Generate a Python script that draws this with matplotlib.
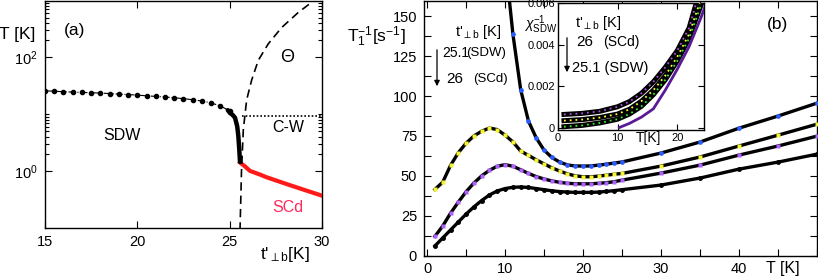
import matplotlib
matplotlib.use('Agg')
import matplotlib.pyplot as plt
import matplotlib.patches as mpatches
from matplotlib.ticker import FixedLocator, NullFormatter

plt.rcParams['font.family'] = ['Liberation Sans', 'DejaVu Sans']
plt.rcParams['mathtext.fontset'] = 'custom'
plt.rcParams['mathtext.rm'] = 'Liberation Sans'
plt.rcParams['mathtext.it'] = 'Liberation Sans:italic'
plt.rcParams['mathtext.bf'] = 'Liberation Sans:bold'
plt.rcParams['mathtext.fallback'] = 'stixsans'

# ---------------- data: panel (a) ----------------
t_sdw = [15, 15.5, 16, 16.5, 17, 17.5, 18, 18.5, 19, 19.5, 20, 20.5, 21, 21.5,
         22, 22.5, 23, 23.5, 24, 24.5, 25]
T_sdw = [25.9, 25.4, 24.9, 24.5, 24.2, 23.9, 23.6, 23.1, 22.6, 22.2, 21.7, 21.1,
         20.6, 20.1, 19.5, 18.8, 18.0, 17.1, 15.8, 14.0, 11.4]
t_sdw_fine = [24.9, 25.02, 25.15, 25.29, 25.41, 25.47, 25.52, 25.56]
T_sdw_fine = [11.8, 10.5, 9.8, 8.7, 6.1, 4.1, 2.4, 1.45]
t_sc = [25.56, 25.83, 26.1, 26.64, 27.0, 28.1, 29.2, 30.0]
T_sc = [1.42, 1.21, 1.01, 0.87, 0.78, 0.59, 0.45, 0.37]
t_cw = [25.65, 30.0]
T_cw = [9.2, 9.2]
t_theta = [25.56, 25.64, 25.74, 25.92, 26.19, 26.55, 27.09, 27.82, 28.71, 29.53, 29.8]
T_theta = [0.09, 1.0, 5.4, 17.9, 39.8, 88.7, 173, 336, 614, 980, 1150]

# ---------------- data: panel (b) ----------------
T_main = list(range(1, 26)) + [30, 35, 40, 45, 50]
rate_yellow = [41.5, 46, 56.5, 64.5, 70.5, 75, 78, 80, 79, 75.5, 71.3, 65.5, 62.8,
               60, 57.5, 55, 53, 51.2, 50, 49.4, 49.4, 49.8, 50.4, 51, 51.5,
               56.1, 61.8, 68.7, 75.5, 82.4]
rate_purple = [12, 18.5, 26.5, 33.5, 40, 45.5, 50, 53.5, 56, 57, 56, 53.8, 51.5,
               49.5, 48, 46.8, 45.9, 45.3, 45, 45, 45, 45.3, 45.7, 46.3, 47.3,
               51.7, 56.7, 63, 68.7, 74.9]
rate_black = [6, 11, 16, 21, 26, 30.5, 34.5, 38, 40.5, 42, 42.8, 43, 42.7, 42,
              41.3, 40.6, 40.1, 39.8, 39.6, 39.6, 39.6, 39.8, 40.2, 40.7, 41.3,
              44.2, 48.6, 54.2, 58.6, 63.6]
T_blue = list(range(10, 26)) + [30, 35, 40, 45, 50]
rate_blue = [186, 139, 104, 84.3, 73.7, 66.1, 61.5, 58.6, 56.8, 56.2, 56.1, 56.2,
             56.7, 57.3, 58, 58.7, 64.3, 71.2, 79.9, 87.5, 95.6]

# ---------------- data: inset ----------------
T_in = [1, 4, 7, 10, 12, 14, 16, 18, 20, 22, 24]
chi_top = [0.00063, 0.00068, 0.00078, 0.0010, 0.00125, 0.00165, 0.0022, 0.0029,
           0.0037, 0.0048, 0.0068]
chi_mid = [0.00033, 0.00038, 0.00048, 0.00065, 0.00088, 0.00127, 0.0018, 0.0025,
           0.0034, 0.0045, 0.0062]
chi_bot = [0.00004, 0.0001, 0.00022, 0.0004, 0.00065, 0.00102, 0.00158, 0.0023,
           0.0032, 0.0043, 0.0059]
T_sdwline = [10.3, 12, 14, 16, 18, 20, 22, 24, 25]
chi_sdwline = [0, 0.0002, 0.0005, 0.0009, 0.0018, 0.0028, 0.0039, 0.0053, 0.0061]

W, H = 818, 279
fig = plt.figure(figsize=(W / 100, H / 100), dpi=100)


def rect(x0, y0, x1, y1):
    return [x0 / W, 1 - y1 / H, (x1 - x0) / W, (y1 - y0) / H]


def P(x, y):
    return (x / W, 1 - y / H)


TL = 10.5

# ================= panel (a) =================
axA = fig.add_axes(rect(45, 0.5, 322, 228))
axA.set_yscale('log')
axA.set_xlim(15, 30)
axA.set_ylim(0.1, 1000)
axA.plot(t_sdw, T_sdw, color='black', lw=0.8, ls='-.', marker='o', ms=3, zorder=3)
axA.plot(t_sdw_fine, T_sdw_fine, color='black', lw=3.2, solid_capstyle='round', zorder=4)
axA.plot(t_sc, T_sc, color='#ff1a1a', lw=3.0, zorder=3)
axA.plot(t_cw, T_cw, color='black', lw=1.2, ls=(0, (1, 1.2)), zorder=3)
axA.plot(t_theta, T_theta, color='black', lw=1.2, ls=(0, (5, 3)), zorder=3)

axA.set_xticks([15, 20, 25, 30])
axA.set_xticklabels(['15', '20', '25', '30'])
axA.yaxis.set_major_locator(FixedLocator([1, 100]))
axA.set_yticklabels([r'$10^0$', r'$10^2$'])
axA.yaxis.set_minor_locator(FixedLocator([2, 3, 4, 5, 6, 7, 8, 9, 10,
                                          200, 300, 400, 500, 600, 700, 800, 900]))
axA.yaxis.set_minor_formatter(NullFormatter())
axA.xaxis.set_minor_locator(FixedLocator([]))
axA.tick_params(axis='both', which='both', direction='in', top=True, right=True,
                labelsize=TL, width=0.8)
axA.tick_params(axis='both', which='major', length=5, pad=5)
axA.tick_params(axis='both', which='minor', length=3)
for s in axA.spines.values():
    s.set_linewidth(1.0)

fig.text(*P(17, 35), 'T [K]', fontsize=12.5, ha='center', va='center')
fig.text(*P(75, 30), '(a)', fontsize=12.5, ha='center', va='center')
fig.text(*P(122, 136), 'SDW', fontsize=11.5, ha='center', va='center')
fig.text(*P(288, 128), 'C-W', fontsize=11.5, ha='center', va='center')
fig.text(*P(288, 58), r'$\Theta$', fontsize=13, ha='center', va='center')
fig.text(*P(288, 208), 'SCd', fontsize=11.5, ha='center', va='center', color='#ff2a5a')
fig.text(*P(285, 255), r"t$'_{\perp\mathrm{b}}$[K]", fontsize=12.5, ha='center', va='center')

# ================= panel (b) =================
axB = fig.add_axes(rect(424, 0.5, 817, 255.5))
axB.set_xlim(-0.4, 50)
axB.set_ylim(0, 160)
LW = 2.4
axB.plot(T_main, rate_black, color='black', lw=LW, marker='o', ms=2.5,
         mfc='black', mec='black', zorder=3)
axB.plot(T_main, rate_purple, color='black', lw=LW, marker='s', ms=3.2,
         mfc='#b060ff', mec='none', zorder=3)
axB.plot(T_main, rate_yellow, color='black', lw=LW, marker='s', ms=3.2,
         mfc='#f4f430', mec='none', zorder=3)
axB.plot(T_blue, rate_blue, color='black', lw=LW, marker='o', ms=3.4,
         mfc='#2b5cff', mec='none', zorder=3)

axB.set_xticks([0, 10, 20, 30, 40, 50])
axB.set_xticklabels(['0', '10', '20', '30', '40', ''])
axB.xaxis.set_minor_locator(FixedLocator([5, 15, 25, 35, 45]))
axB.set_yticks([0, 25, 50, 75, 100, 125, 150])
axB.yaxis.set_minor_locator(FixedLocator([12.5, 37.5, 62.5, 87.5, 112.5, 137.5]))
axB.tick_params(axis='both', which='both', direction='in', top=True, right=True,
                labelsize=TL, width=0.8)
axB.tick_params(axis='both', which='major', length=5, pad=5)
axB.tick_params(axis='both', which='minor', length=5)
for s in axB.spines.values():
    s.set_linewidth(1.0)

fig.text(*P(376, 37), r'T$_1^{-1}$[s$^{-1}$]', fontsize=12.5, ha='center', va='center')
fig.text(*P(778, 25), '(b)', fontsize=12.5, ha='center', va='center')
fig.text(*P(783, 268), 'T [K]', fontsize=11.5, ha='center', va='center')
fig.text(*P(455, 32), r"t$'_{\perp\mathrm{b}}$ [K]", fontsize=10.5, ha='left', va='center')
fig.text(*P(442, 53), '25.1', fontsize=10, ha='left', va='center')
fig.text(*P(466, 53), '(SDW)', fontsize=9.5, ha='left', va='center')
fig.text(*P(446, 79), '26', fontsize=11, ha='left', va='center')
fig.text(*P(473, 79), '(SCd)', fontsize=9.5, ha='left', va='center')
fig.add_artist(mpatches.FancyArrowPatch(P(437, 47), P(437, 89),
               transform=fig.transFigure, arrowstyle='-|>', mutation_scale=8,
               color='black', lw=0.9))

# ================= inset =================
axI = fig.add_axes(rect(558, 3, 704, 130))
axI.set_zorder(5)
axI.set_xlim(0, 24.5)
axI.set_ylim(-0.00012, 0.006)
for y, c in [(chi_bot, '#33ee33'), (chi_mid, '#ffff33'), (chi_top, '#b050e0')]:
    axI.plot(T_in, y, color='black', lw=3.6, zorder=3)
    axI.plot(T_in, y, color=c, lw=1.3, ls=(0, (1, 2.2)), zorder=4)
axI.plot(T_sdwline, chi_sdwline, color='#5a1a96', lw=2.0, zorder=5)
axI.set_xticks([0, 10, 20])
axI.set_yticks([0, 0.002, 0.004, 0.006])
axI.set_yticklabels(['0', '0.002', '0.004', '0.006'])
axI.tick_params(axis='both', which='both', direction='in', top=True, right=True,
                labelsize=8, width=0.8, length=4, pad=2)
for s in axI.spines.values():
    s.set_linewidth(1.0)

fig.text(*P(541, 25), r'$\chi_{\mathrm{SDW}}^{-1}$', fontsize=10, ha='center', va='center')
fig.text(*P(648, 138), 'T[K]', fontsize=10, ha='center', va='center')
fig.text(*P(575, 23), r"t$'_{\perp\mathrm{b}}$ [K]", fontsize=10.5, ha='left', va='center', zorder=10)
fig.text(*P(576, 42), '26', fontsize=11, ha='left', va='center', zorder=10)
fig.text(*P(603, 42), '(SCd)', fontsize=10, ha='left', va='center', zorder=10)
fig.text(*P(572, 68), '25.1 (SDW)', fontsize=10.5, ha='left', va='center', zorder=10)
fig.add_artist(mpatches.FancyArrowPatch(P(567, 35), P(567, 75),
               transform=fig.transFigure, arrowstyle='-|>', mutation_scale=8,
               color='black', lw=0.9, zorder=10))

fig.savefig('out.png', dpi=100)
